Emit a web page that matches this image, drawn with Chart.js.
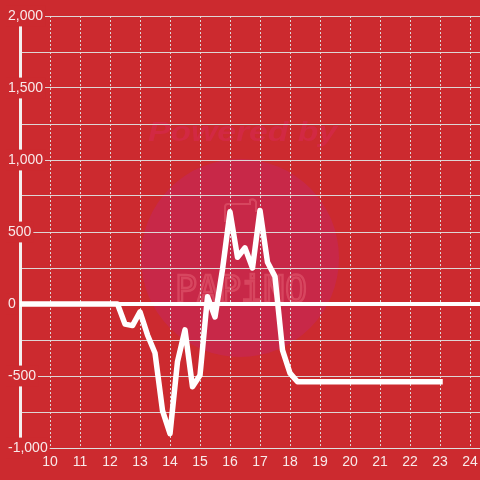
<!DOCTYPE html>
<html>
<head>
<meta charset="utf-8">
<script src="https://cdn.jsdelivr.net/npm/chart.js@4"></script>
<style>
  html, body { margin: 0; padding: 0; background: #cc2a2f; }
  #wrap { width: 480px; height: 480px; position: relative; }
</style>
</head>
<body>
<div id="wrap"><canvas id="c" width="480" height="480"></canvas></div>
<script>
// Time of day (hours) for each sample
const hours = [
  9, 9.25, 9.5, 9.75, 10, 10.25, 10.5, 10.75, 11, 11.25, 11.5, 11.75,
  12, 12.25, 12.5, 12.75, 13, 13.25, 13.5, 13.75, 14, 14.25, 14.5, 14.75,
  15, 15.25, 15.5, 15.75, 16, 16.25, 16.5, 16.75, 17, 17.25, 17.5, 17.75,
  18, 18.25, 18.5, 18.75, 19, 19.25, 19.5, 19.75, 20, 20.25, 20.5, 20.75,
  21, 21.25, 21.5, 21.75, 22, 22.25, 22.5, 22.75, 23
];
// Series values
const values = [
  0, 0, 0, 0, 0, 0, 0, 0, 0, 0, 0, 0,
  0, 0, -140, -150, -55, -215, -340, -740, -900, -400, -180, -575,
  -495, 50, -90, 240, 640, 325, 390, 250, 650, 290, 190, -320,
  -480, -540, -540, -540, -540, -540, -540, -540, -540, -540, -540, -540,
  -540, -540, -540, -540, -540, -540, -540, -540, -540
];
// Axis ticks
const xTicks = [10, 11, 12, 13, 14, 15, 16, 17, 18, 19, 20, 21, 22, 23, 24];
const yLabelTicks = [-1000, -500, 0, 500, 1000, 1500, 2000];

const BG = '#cc2a2f';
const GRID = 'rgba(222,222,222,0.95)';
const TEXT = 'rgba(250,240,240,0.97)';

const watermark = {
  id: 'watermark',
  beforeDraw(chart) {
    const ctx = chart.ctx;
    ctx.save();
    ctx.fillStyle = BG;
    ctx.fillRect(0, 0, chart.width, chart.height);
    // circle
    ctx.beginPath();
    ctx.arc(240, 258, 99, 0, Math.PI * 2);
    ctx.fillStyle = 'rgba(200,40,75,0.9)';
    ctx.fill();
    // Powered by
    ctx.font = 'italic bold 28px "Liberation Sans", Arial, sans-serif';
    const t = 'Powered by';
    const w = ctx.measureText(t).width;
    ctx.translate(148, 141);
    ctx.scale(189 / w, 1);
    ctx.fillStyle = 'rgba(212,42,75,0.7)';
    ctx.textBaseline = 'alphabetic';
    ctx.fillText(t, 0, 0);
    ctx.restore();
    // PAPINO
    ctx.save();
    ctx.font = '38px "DejaVu Sans Mono", monospace';
    const p = 'PAPiNO';
    const pw = ctx.measureText(p).width;
    ctx.translate(175, 302);
    ctx.scale(132 / pw, 1);
    ctx.strokeStyle = 'rgba(228,95,115,0.55)';
    ctx.lineWidth = 2.5;
    ctx.textBaseline = 'alphabetic';
    ctx.strokeText(p, 0, 0);
    ctx.restore();
    // flag
    ctx.save();
    ctx.strokeStyle = 'rgba(228,95,115,0.55)';
    ctx.lineWidth = 2;
    ctx.beginPath();
    ctx.moveTo(225, 222);
    ctx.lineTo(225, 207);
    ctx.quadraticCurveTo(225, 204, 228, 204);
    ctx.lineTo(250, 204);
    ctx.lineTo(250, 200);
    ctx.quadraticCurveTo(254, 198, 256, 202);
    ctx.lineTo(256, 212);
    ctx.stroke();
    ctx.restore();
  }
};

const points = hours.map((h, i) => ({ x: h, y: values[i] }));

new Chart(document.getElementById('c'), {
  type: 'line',
  data: {
    datasets: [{
      data: points,
      borderColor: '#ffffff',
      borderWidth: 5.5,
      borderCapStyle: 'square',
      borderJoinStyle: 'round',
      tension: 0,
      pointRadius: 0,
      pointHoverRadius: 0,
      fill: false
    }]
  },
  options: {
    responsive: false,
    animation: false,
    events: [],
    layout: { padding: { top: 16, left: 0, right: 0, bottom: 0 } },
    plugins: { legend: { display: false }, tooltip: { enabled: false } },
    scales: {
      x: {
        type: 'linear',
        position: 'bottom',
        min: 9,
        max: 24 + 1 / 3,
        grid: {
          color: GRID,
          lineWidth: 1,
          drawTicks: false
        },
        border: { display: true, color: GRID, width: 1, dash: [2, 2] },
        ticks: {
          z: 1,
          stepSize: 1,
          includeBounds: false,
          autoSkip: false,
          maxRotation: 0,
          padding: 5.6,
          color: TEXT,
          font: { family: '"Liberation Sans", Arial, sans-serif', size: 14 },
          callback: (v) => xTicks.includes(v) ? String(v) : ''
        },
        afterFit: (s) => { s.height = 32; s.paddingLeft = 0; s.paddingRight = 0; }
      },
      y: {
        type: 'linear',
        position: 'left',
        min: -1000,
        max: 2000,
        grid: {
          color: (c) => c.tick && c.tick.value === 0 ? '#ffffff' : GRID,
          lineWidth: (c) => c.tick && c.tick.value === 0 ? 4 : 1,
          drawTicks: false
        },
        border: { display: true, color: '#f4f0f0', width: 3 },
        ticks: {
          stepSize: 250,
          mirror: true,
          crossAlign: 'near',
          padding: -12,
          color: TEXT,
          font: { family: '"Liberation Sans", Arial, sans-serif', size: 14 },
          showLabelBackdrop: (c) => yLabelTicks.includes(c.tick.value),
          backdropColor: BG,
          backdropPadding: 2,
          callback: (v) => yLabelTicks.includes(v) ? v.toLocaleString('en-US') : ''
        },
        afterFit: (s) => { s.width = 20; s.paddingTop = 0; s.paddingBottom = 0; }
      }
    }
  },
  plugins: [watermark]
});
</script>
</body>
</html>
